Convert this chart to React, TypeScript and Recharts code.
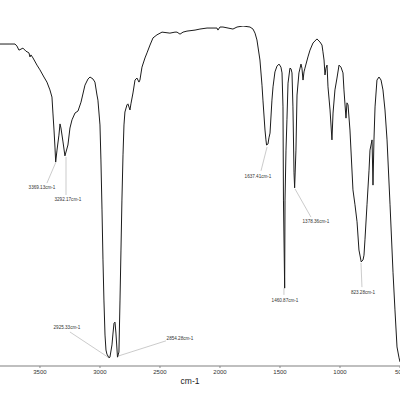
import { LineChart, Line, XAxis, YAxis, ReferenceLine, ReferenceDot } from 'recharts';

// wavenumber (cm-1), high to low
const wavenumbers = [
  3833, 3750, 3708, 3692, 3675, 3658, 3642, 3617, 3592, 3583, 3575, 3558, 3525, 3500, 3467, 3442,
  3417, 3400, 3392, 3383, 3375, 3369, 3358, 3342, 3333, 3325, 3308, 3292, 3267, 3250, 3233, 3208,
  3183, 3158, 3125, 3100, 3083, 3058, 3042, 3025, 3017, 3000, 2992, 2983, 2975, 2967, 2958, 2950,
  2942, 2925, 2917, 2900, 2892, 2883, 2875, 2867, 2854, 2842, 2833, 2825, 2817, 2808, 2800, 2792,
  2775, 2767, 2750, 2742, 2725, 2708, 2692, 2675, 2667, 2650, 2625, 2608, 2583, 2558, 2525, 2483,
  2417, 2375, 2358, 2333, 2308, 2275, 2208, 2167, 2108, 2058, 2025, 2017, 2000, 1975, 1933, 1892,
  1858, 1808, 1750, 1725, 1708, 1692, 1667, 1650, 1642, 1625, 1617, 1612, 1600, 1592, 1583, 1567,
  1558, 1542, 1525, 1508, 1492, 1483, 1475, 1471, 1461, 1458, 1450, 1442, 1433, 1417, 1408, 1400,
  1392, 1383, 1378, 1367, 1358, 1342, 1325, 1317, 1308, 1300, 1292, 1267, 1250, 1225, 1192, 1167,
  1150, 1142, 1133, 1125, 1117, 1108, 1100, 1083, 1067, 1058, 1042, 1025, 1008, 992, 975, 967,
  950, 942, 933, 917, 892, 875, 858, 842, 823, 817, 808, 800, 792, 775, 758, 750,
  733, 725, 717, 708, 692, 675, 658, 642, 625, 608, 583, 558, 542, 525, 508, 500,
];

// transmittance (%) at each wavenumber above
const transmittance = [
  94.7, 94.7, 94.7, 94.1, 92.9, 93.2, 93.5, 92.6, 92.1, 90.9, 91.5, 90.6, 88.5, 87.1, 85.0, 83.5,
  81.2, 79.1, 74.4, 69.4, 64.4, 60.0, 63.5, 67.9, 71.2, 70.0, 65.9, 61.8, 65.0, 70.0, 72.4, 74.4,
  75.0, 77.6, 82.6, 84.4, 85.0, 84.4, 83.5, 79.7, 78.2, 70.9, 60.6, 45.9, 31.2, 19.4, 9.1, 4.7,
  3.5, 2.4, 2.6, 6.2, 9.4, 12.6, 12.9, 9.7, 2.6, 4.1, 19.4, 34.1, 48.8, 62.1, 70.9, 74.7,
  76.8, 77.1, 75.3, 77.1, 80.3, 84.1, 84.7, 83.5, 84.1, 87.9, 90.6, 92.1, 94.4, 96.5, 97.4, 98.2,
  97.9, 98.2, 98.2, 97.6, 98.2, 98.5, 98.8, 99.1, 99.4, 99.4, 99.4, 98.8, 99.7, 99.7, 99.4, 99.1,
  99.7, 100, 99.7, 99.1, 97.9, 95.9, 90.0, 82.6, 78.2, 69.4, 66.5, 65.0, 65.3, 67.1, 68.5, 78.2,
  82.1, 86.5, 88.2, 88.8, 87.9, 86.2, 76.2, 48.8, 22.9, 48.8, 63.5, 72.4, 83.2, 87.6, 87.4, 86.2,
  76.2, 56.8, 52.4, 63.5, 79.7, 86.2, 88.8, 87.6, 84.1, 86.5, 87.6, 90.9, 92.9, 95.0, 96.2, 95.3,
  94.4, 92.4, 90.0, 85.6, 87.6, 88.5, 82.1, 75.3, 66.5, 74.4, 81.2, 84.7, 88.5, 87.9, 86.2, 81.2,
  72.9, 77.4, 76.8, 69.4, 51.8, 47.4, 42.4, 34.1, 30.6, 30.9, 31.2, 32.6, 37.1, 47.4, 57.6, 63.5,
  66.5, 53.2, 66.5, 76.2, 84.1, 85.0, 84.1, 81.2, 75.3, 66.5, 47.4, 27.4, 16.5, 5.6, 2.4, 1.2,
];

const xTicks = [3500, 3000, 2500, 2000, 1500, 1000, 500];

// peak labels: text, peak point, label anchor (all in data units)
const peakLabels = ['3369.13cm-1', '3292.17cm-1', '2925.33cm-1', '2854.28cm-1', '1637.41cm-1', '1460.87cm-1', '1378.36cm-1', '823.28cm-1'];
const peakWn = [3367, 3283, 2933, 2850, 1608, 1467, 1375, 825];
const peakT = [60.0, 61.5, 2.6, 2.9, 64.4, 22.9, 52.1, 30.3];
const leaderWn = [3442, 3283, 3250, 2450, 1658, 1467, 1242, 817];
const leaderT = [53.8, 50.3, 10.0, 7.4, 57.4, 20.9, 43.8, 23.2];
const textWn = [3483, 3267, 3275, 2333, 1683, 1458, 1200, 808];
const textT = [52.4, 49.1, 11.5, 8.2, 55.9, 19.4, 42.4, 21.8];

const spectrum = wavenumbers.map((wn, i) => ({ wn, t: transmittance[i] }));

const font = '"Liberation Sans", Arial, sans-serif';

const App = () => {
  return (
    <div style={{ position: 'absolute', left: 0, top: 0, width: 400, height: 400, background: '#fff' }}>
      <LineChart width={400} height={400} data={spectrum} margin={{ top: 26, right: 0, bottom: 4, left: 0 }}>
        <XAxis
          type="number"
          dataKey="wn"
          domain={[500, 3833]}
          reversed
          allowDataOverflow
          ticks={xTicks}
          interval={0}
          height={30}
          tickSize={2}
          tickMargin={2}
          axisLine={{ stroke: '#aaa', strokeWidth: 1.5 }}
          tickLine={{ stroke: '#888' }}
          tick={{ fontSize: 6, fill: '#333', fontFamily: font }}
          label={{ value: 'cm-1', position: 'insideBottom', offset: 12, dx: -10, fontSize: 8.5, fill: '#222', fontFamily: font }}
        />
        <YAxis hide domain={[0, 100]} allowDataOverflow />
        {peakLabels.map((_, i) => (
          <ReferenceLine
            key={`l${i}`}
            segment={[{ x: peakWn[i], y: peakT[i] }, { x: leaderWn[i], y: leaderT[i] }]}
            stroke="#b5b5b5"
            strokeWidth={0.7}
            ifOverflow="visible"
          />
        ))}
        <Line
          type="linear"
          dataKey="t"
          stroke="#1c1c1c"
          strokeWidth={1}
          dot={false}
          isAnimationActive={false}
        />
        {peakLabels.map((text, i) => (
          <ReferenceDot
            key={`t${i}`}
            x={textWn[i]}
            y={textT[i]}
            r={1}
            fill="none"
            stroke="none"
            ifOverflow="visible"
            label={{ value: text, position: 'center', fontSize: 4.6, fill: '#333', fontFamily: font }}
          />
        ))}
      </LineChart>
    </div>
  );
};

export default App;
